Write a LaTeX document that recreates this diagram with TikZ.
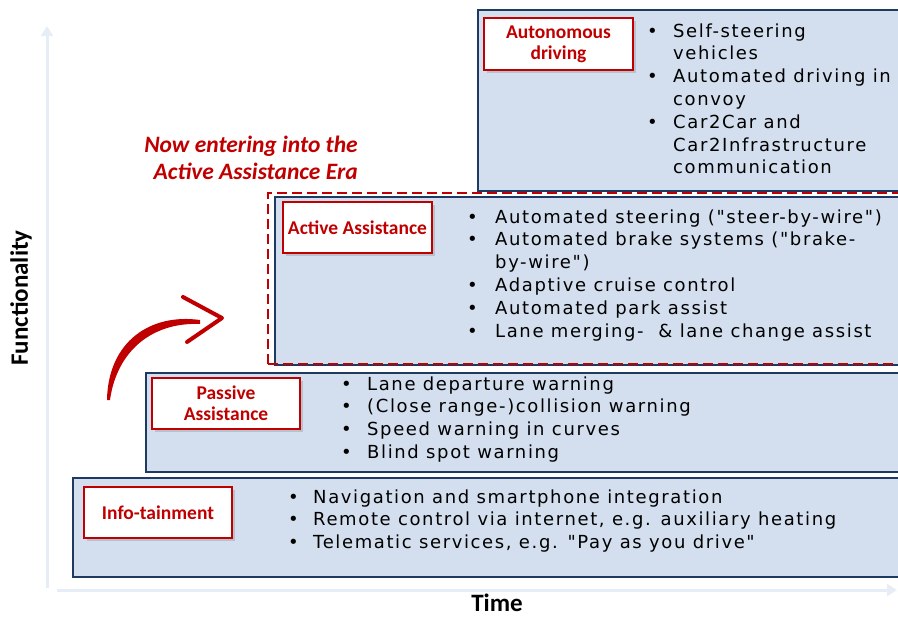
\documentclass[tikz,border=0pt]{standalone}
\usepackage{fontspec}
\setmainfont{Carlito}
\newfontfamily\bulletfont[LetterSpace=9]{DejaVu Sans}
\usetikzlibrary{shadows,arrows.meta}
\definecolor{navy}{HTML}{1F3A60}
\definecolor{boxfill}{HTML}{D3DFEE}
\definecolor{redc}{HTML}{C00000}
\definecolor{axisc}{HTML}{E6EDF6}
\newcommand\bl[1]{\makebox[#1pt][l]{•}}
\begin{document}
\begin{tikzpicture}[x=1pt,y=-1pt,
  stage/.style={draw=navy, line width=2.4pt, fill=boxfill, anchor=north west, inner sep=0pt},
  lbl/.style={draw=redc, line width=2.8pt, fill=white, text=redc, align=center,
    font=\bfseries\fontsize{19.5}{21}\selectfont, inner sep=0pt,
    drop shadow={shadow xshift=2.5pt, shadow yshift=-2.5pt, opacity=0.3}},
  items/.style={anchor=base west, inner sep=0pt, font=\bulletfont\fontsize{18}{22.8}\selectfont},
  axisline/.style={axisc, line width=3pt, -{Triangle[width=12pt,length=10pt]}},
  axlabel/.style={font=\bfseries\fontsize{25}{28}\selectfont, inner sep=0pt},
  eradash/.style={redc, line width=2.8pt, dash pattern=on 10pt off 5pt},
]
\useasboundingbox (0,0) rectangle (898,619);
\clip (0,0) rectangle (898,619);

% axes
\coordinate (ybot) at (47,588);
\coordinate (ytop) at (47,26);
\coordinate (xleft) at (57,590);
\coordinate (xright) at (897,590);
\draw[axisline] (ybot) -- (ytop);
\draw[axisline] (xleft) -- (xright);
\node[axlabel, rotate=90] (fn) at (21,298) {Functionality};
\node[axlabel] (time) at (497,603) {Time};

% stage boxes
\node[stage, minimum width=440pt, minimum height=181pt] (autobox) at (477,9) {};
\node[stage, minimum width=645pt, minimum height=168pt] (activebox) at (274,196) {};
\draw[eradash] (268,364) -- (268,193) -- (915,193);
\draw[eradash] (268,364) -- (915,364);
\node[stage, minimum width=770pt, minimum height=99pt] (passivebox) at (145,372) {};
\node[stage, minimum width=840pt, minimum height=99pt] (infobox) at (72,477) {};

% labels
\node[lbl, minimum width=149pt, minimum height=52pt] (autolbl) at (558.5,44) {Autonomous\\driving};
\node[lbl, minimum width=149pt, minimum height=51pt] (activelbl) at (357.5,227.5) {Active Assistance};
\node[lbl, minimum width=148pt, minimum height=51pt] (passivelbl) at (226,403.5) {Passive\\Assistance};
\node[lbl, minimum width=148pt, minimum height=51pt] (infolbl) at (158,512.5) {Info-tainment};

% bullet lists
\node[items] (autoitems) at (647,37) {\begin{tabular}[t]{@{}l@{}l@{}}
\bl{26} & Self-steering\\
 & vehicles\\
\bl{26} & Automated driving in\\
 & convoy\\
\bl{26} & Car2Car and\\
 & Car2Infrastructure\\
 & communication
\end{tabular}};
\node[items] (activeitems) at (467,223) {\begin{tabular}[t]{@{}l@{}l@{}}
\bl{28} & Automated steering ("steer-by-wire")\\
\bl{28} & Automated brake systems ("brake-\\
 & by-wire")\\
\bl{28} & Adaptive cruise control\\
\bl{28} & Automated park assist\\
\bl{28} & Lane merging-~ \& lane change assist
\end{tabular}};
\node[items] (passiveitems) at (341,390) {\begin{tabular}[t]{@{}l@{}l@{}}
\bl{26} & Lane departure warning\\
\bl{26} & (Close range-)collision warning\\
\bl{26} & Speed warning in curves\\
\bl{26} & Blind spot warning
\end{tabular}};
\node[items] (infoitems) at (288,503) {\begin{tabular}[t]{@{}l@{}l@{}}
\bl{25} & Navigation and smartphone integration\\
\bl{25} & Remote control via internet, e.g. auxiliary heating\\
\bl{25} & Telematic services, e.g. "Pay as you drive"
\end{tabular}};

% era caption
\node[anchor=base east, inner sep=0pt, text=redc, font=\bfseries\itshape\fontsize{23.5}{27}\selectfont] (era) at (358,152)
  {\begin{tabular}[t]{@{}r@{}}Now entering into the\\Active Assistance Era\end{tabular}};

% red brush arrow
\coordinate (arrA) at (107,400);
\coordinate (arrB) at (200,320);
\coordinate (chevT) at (183,297);
\coordinate (chevTip) at (222,318);
\coordinate (chevB) at (187,342);
\fill[redc] (arrA) .. controls (108,342) and (150,313) .. (arrB) -- (200,324) .. controls (153,322) and (117,350) .. (110,400) -- cycle;
\draw[redc, line width=4pt, line cap=round, line join=round] (chevT) -- (chevTip) -- (chevB);
\end{tikzpicture}
\end{document}
